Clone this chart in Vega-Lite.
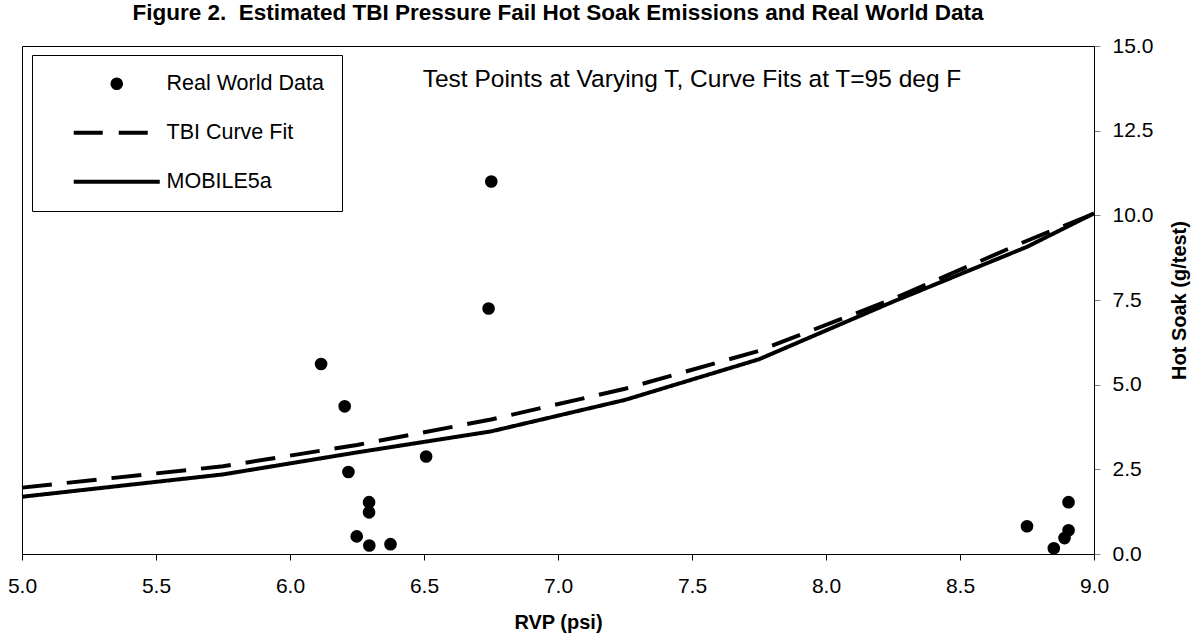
{
  "$schema": "https://vega.github.io/schema/vega-lite/v6.json",
  "width": 1072,
  "height": 508,
  "autosize": {"type": "none"},
  "padding": {"left": 22, "top": 46, "right": 105, "bottom": 89},
  "background": "white",
  "title": {
    "text": "Figure 2.\u00a0 Estimated TBI Pressure Fail Hot Soak Emissions and Real World Data",
    "font": "Liberation Sans",
    "fontSize": 22.5,
    "fontWeight": "bold",
    "color": "black",
    "offset": 11,
    "anchor": "middle"
  },
  "config": {
    "font": "Liberation Sans",
    "view": {"stroke": "black", "strokeWidth": 1}
  },
  "datasets": {
    "points": [
      {"rvp": 6.116, "hotsoak": 5.61, "series": "Real World Data"},
      {"rvp": 6.204, "hotsoak": 4.36, "series": "Real World Data"},
      {"rvp": 6.218, "hotsoak": 2.42, "series": "Real World Data"},
      {"rvp": 6.508, "hotsoak": 2.88, "series": "Real World Data"},
      {"rvp": 6.295, "hotsoak": 1.53, "series": "Real World Data"},
      {"rvp": 6.295, "hotsoak": 1.23, "series": "Real World Data"},
      {"rvp": 6.249, "hotsoak": 0.52, "series": "Real World Data"},
      {"rvp": 6.296, "hotsoak": 0.25, "series": "Real World Data"},
      {"rvp": 6.375, "hotsoak": 0.29, "series": "Real World Data"},
      {"rvp": 6.741, "hotsoak": 7.25, "series": "Real World Data"},
      {"rvp": 6.751, "hotsoak": 11.0, "series": "Real World Data"},
      {"rvp": 8.75, "hotsoak": 0.82, "series": "Real World Data"},
      {"rvp": 8.85, "hotsoak": 0.17, "series": "Real World Data"},
      {"rvp": 8.89, "hotsoak": 0.47, "series": "Real World Data"},
      {"rvp": 8.905, "hotsoak": 0.7, "series": "Real World Data"},
      {"rvp": 8.905, "hotsoak": 1.53, "series": "Real World Data"}
    ],
    "curves": [
      {"rvp": 5.0, "hotsoak": 1.96, "series": "TBI Curve Fit"},
      {"rvp": 5.75, "hotsoak": 2.59, "series": "TBI Curve Fit"},
      {"rvp": 6.25, "hotsoak": 3.22, "series": "TBI Curve Fit"},
      {"rvp": 6.75, "hotsoak": 3.97, "series": "TBI Curve Fit"},
      {"rvp": 7.25, "hotsoak": 4.88, "series": "TBI Curve Fit"},
      {"rvp": 7.75, "hotsoak": 6.0, "series": "TBI Curve Fit"},
      {"rvp": 8.25, "hotsoak": 7.53, "series": "TBI Curve Fit"},
      {"rvp": 8.75, "hotsoak": 9.25, "series": "TBI Curve Fit"},
      {"rvp": 9.0, "hotsoak": 10.05, "series": "TBI Curve Fit"},
      {"rvp": 5.0, "hotsoak": 1.69, "series": "MOBILE5a"},
      {"rvp": 5.75, "hotsoak": 2.35, "series": "MOBILE5a"},
      {"rvp": 6.25, "hotsoak": 3.0, "series": "MOBILE5a"},
      {"rvp": 6.75, "hotsoak": 3.62, "series": "MOBILE5a"},
      {"rvp": 7.25, "hotsoak": 4.55, "series": "MOBILE5a"},
      {"rvp": 7.75, "hotsoak": 5.75, "series": "MOBILE5a"},
      {"rvp": 8.25, "hotsoak": 7.45, "series": "MOBILE5a"},
      {"rvp": 8.75, "hotsoak": 9.07, "series": "MOBILE5a"},
      {"rvp": 9.0, "hotsoak": 10.06, "series": "MOBILE5a"}
    ],
    "notes": [
      {"rvp": 7.5, "hotsoak": 14.0, "label": "Test Points at Varying T, Curve Fits at T=95 deg F"}
    ]
  },
  "encoding": {
    "x": {
      "field": "rvp",
      "type": "quantitative",
      "scale": {"domain": [5, 9], "nice": false, "zero": false},
      "axis": {
        "values": [5, 5.5, 6, 6.5, 7, 7.5, 8, 8.5, 9],
        "format": ".1f",
        "title": "RVP (psi)",
        "titleFont": "Liberation Sans",
        "titleFontSize": 20,
        "titleFontWeight": "bold",
        "titleColor": "black",
        "titlePadding": 16,
        "labelFont": "Liberation Sans",
        "labelFontSize": 21,
        "labelColor": "black",
        "labelPadding": 15,
        "labelFlush": false,
        "tickSize": 6,
        "tickColor": "black",
        "domainColor": "black",
        "grid": false
      }
    },
    "y": {
      "field": "hotsoak",
      "type": "quantitative",
      "scale": {"domain": [0, 15], "nice": false},
      "axis": {
        "orient": "right",
        "values": [0, 2.5, 5, 7.5, 10, 12.5, 15],
        "format": ".1f",
        "title": "Hot Soak (g/test)",
        "titleAngle": 270,
        "titleFont": "Liberation Sans",
        "titleFontSize": 20,
        "titleFontWeight": "bold",
        "titleColor": "black",
        "titlePadding": 37,
        "labelFont": "Liberation Sans",
        "labelFontSize": 21,
        "labelColor": "black",
        "labelPadding": 12,
        "labelFlush": false,
        "tickSize": 6,
        "tickColor": "#808080",
        "domainColor": "black",
        "grid": false
      }
    }
  },
  "layer": [
    {
      "data": {"name": "curves"},
      "mark": {"type": "line", "strokeWidth": 4, "strokeCap": "butt"},
      "encoding": {
        "color": {
          "field": "series",
          "type": "nominal",
          "scale": {"domain": ["Real World Data", "TBI Curve Fit", "MOBILE5a"], "range": ["black", "black", "black"]},
          "legend": {
            "title": null,
            "orient": "none",
            "legendX": 10,
            "legendY": 9,
            "direction": "vertical",
            "strokeColor": "black",
            "fillColor": "white",
            "padding": 18,
            "labelFont": "Liberation Sans",
            "labelFontSize": 21.5,
            "labelColor": "black",
            "labelOffset": 39,
            "labelLimit": 400,
            "rowPadding": 26,
            "symbolSize": 7400,
            "symbolOffset": 56,
            "symbolStrokeWidth": 4,
            "symbolType": "stroke",
            "encode": {
              "symbols": {
                "update": {
                  "shape": {"signal": "datum.value === 'Real World Data' ? 'circle' : 'stroke'"},
                  "size": {"signal": "datum.value === 'Real World Data' ? 160 : 7400"},
                  "strokeDash": {"signal": "datum.value === 'TBI Curve Fit' ? [29, 16] : [1, 0]"},
                  "fill": {"signal": "datum.value === 'Real World Data' ? 'black' : 'transparent'"},
                  "stroke": {"value": "black"},
                  "strokeWidth": {"signal": "datum.value === 'Real World Data' ? 0 : 4"},
                  "opacity": {"value": 1}
                }
              }
            }
          }
        },
        "strokeDash": {
          "field": "series",
          "type": "nominal",
          "scale": {"domain": ["TBI Curve Fit", "MOBILE5a"], "range": [[30, 15], [1, 0]]},
          "legend": null
        }
      }
    },
    {
      "data": {"name": "points"},
      "mark": {"type": "point", "filled": true, "size": 160, "opacity": 1},
      "encoding": {
        "color": {"field": "series", "type": "nominal"}
      }
    },
    {
      "data": {"name": "notes"},
      "mark": {"type": "text", "font": "Liberation Sans", "fontSize": 24.5, "color": "black", "align": "center", "baseline": "middle"},
      "encoding": {
        "text": {"field": "label"}
      }
    }
  ]
}
